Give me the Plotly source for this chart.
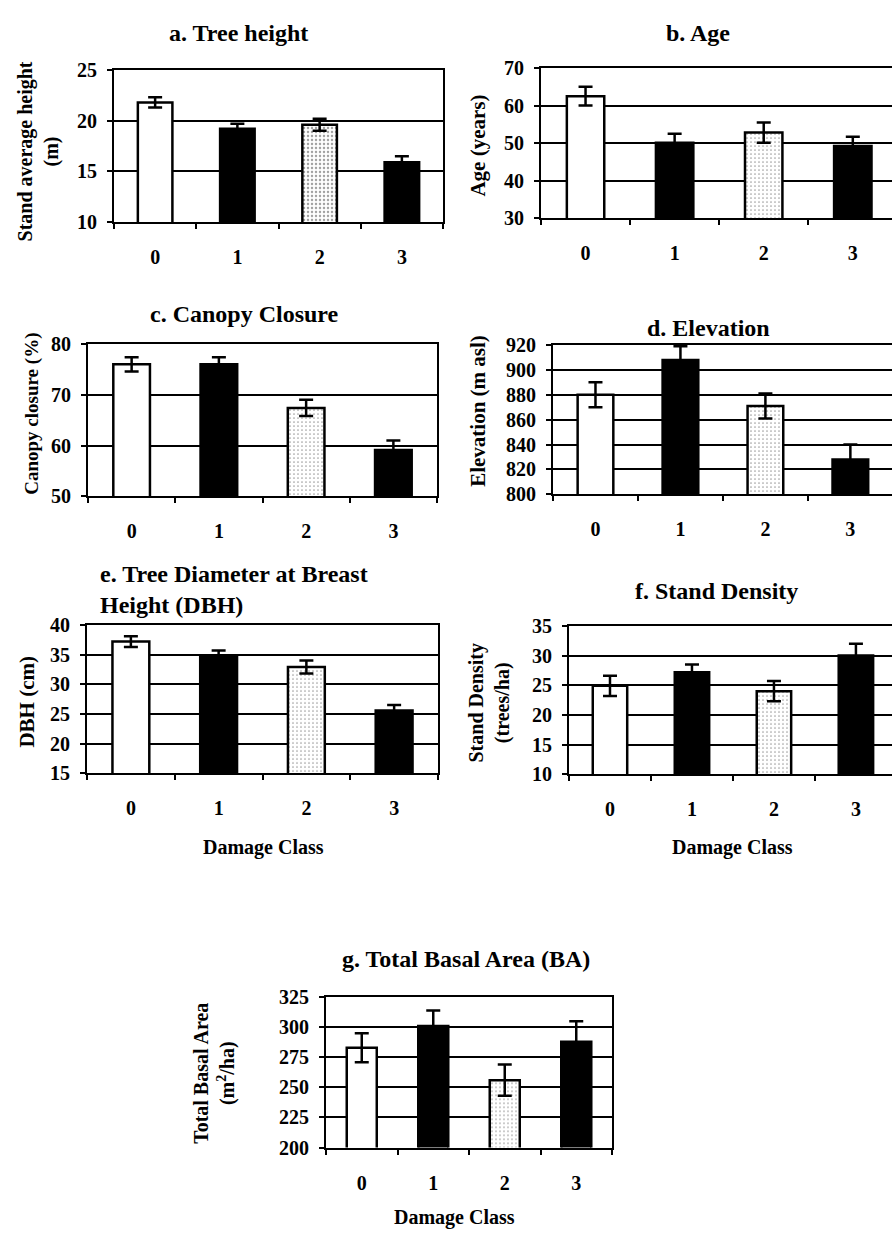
import plotly.graph_objects as go

W, H = 892, 1243

# Damage classes on the x axis
classes = ["0", "1", "2", "3"]

# Panel means and standard errors, one pair per stand attribute
height_mean = [21.8, 19.2, 19.6, 15.9]
height_err = [0.5, 0.5, 0.6, 0.6]

age_mean = [62.5, 50.1, 52.8, 49.2]
age_err = [2.5, 2.4, 2.7, 2.5]

canopy_mean = [76.0, 76.0, 67.4, 59.1]
canopy_err = [1.4, 1.4, 1.6, 1.9]

elev_mean = [880, 908, 871, 828]
elev_err = [10, 11, 10, 12]

dbh_mean = [37.2, 34.9, 32.9, 25.6]
dbh_err = [0.9, 0.8, 1.1, 0.9]

density_mean = [24.9, 27.2, 24.0, 30.0]
density_err = [1.7, 1.3, 1.7, 2.0]

ba_mean = [283, 301, 256, 288]
ba_err = [12, 13, 13, 17]

FONT = "Liberation Serif"

fig = go.Figure()


def px_x(x):
    return x / W


def px_y(y):
    return 1 - y / H


def add_panel(idx, means, errs, xdom, ydom, yrange, dtick, xmax=3.5,
              right_line=True, stipple=0.15):
    xa = "x" if idx == 1 else f"x{idx}"
    ya = "y" if idx == 1 else f"y{idx}"
    fig.add_trace(go.Bar(
        x=classes, y=means,
        xaxis=xa, yaxis=ya,
        width=0.42,
        marker=dict(
            color=["white", "black", "white", "black"],
            line=dict(color="black", width=2.5),
            pattern=dict(shape=["", "", ".", ""], fgcolor="#666666",
                         size=4, solidity=stipple),
        ),
        error_y=dict(type="data", array=errs, visible=True,
                     color="black", thickness=2.5, width=7),
        showlegend=False,
    ))
    key = "" if idx == 1 else str(idx)
    fig.layout[f"xaxis{key}"] = dict(
        domain=[px_x(xdom[0]), px_x(xdom[1])],
        anchor=ya, type="category", range=[-0.5, xmax],
        tickson="boundaries", ticks="outside", ticklen=5, tickwidth=1.5,
        tickcolor="black", showline=True, linecolor="black", linewidth=2,
        mirror=True, showgrid=False,
        tickfont=dict(family=FONT, size=20, color="black", weight="bold"),
        ticklabelstandoff=16,
    )
    fig.layout[f"yaxis{key}"] = dict(
        domain=[px_y(ydom[1]), px_y(ydom[0])],
        anchor=xa, range=yrange, dtick=dtick, tick0=yrange[0],
        ticks="outside", ticklen=5, tickwidth=1.5, tickcolor="black",
        showline=True, linecolor="black", linewidth=2,
        mirror=right_line, showgrid=True, gridcolor="black", gridwidth=1.5,
        zeroline=False,
        tickfont=dict(family=FONT, size=20, color="black", weight="bold"),
        ticklabelstandoff=6,
    )


add_panel(1, height_mean, height_err, (114, 443), (60, 215), [10, 25], 5,
          stipple=0.3)
add_panel(2, age_mean, age_err, (541, 892), (58, 211), [30, 70], 10,
          xmax=3.44, right_line=False)
add_panel(3, canopy_mean, canopy_err, (88, 437), (339, 494), [50, 80], 10)
add_panel(4, elev_mean, elev_err, (553, 892), (340, 492), [800, 920], 20,
          xmax=3.49, right_line=False)
add_panel(5, dbh_mean, dbh_err, (87, 438), (625, 776), [15, 40], 5)
add_panel(6, density_mean, density_err, (569, 892), (626, 777), [10, 35], 5,
          xmax=3.44, right_line=False)
add_panel(7, ba_mean, ba_err, (326, 612), (1004, 1157), [200, 325], 25)


def label(text, x, y, size, angle=0, xanchor="center", align="center"):
    fig.add_annotation(
        text=text, x=px_x(x), y=px_y(y), xref="paper", yref="paper",
        showarrow=False, textangle=angle, xanchor=xanchor, yanchor="middle",
        align=align,
        font=dict(family=FONT, size=size, color="black", weight="bold"),
    )


# Panel titles
label("a. Tree height", 238, 22, 24)
label("b. Age", 698, 22, 24)
label("c. Canopy Closure", 244, 308, 24)
label("d. Elevation", 708, 323, 24)
label("e. Tree Diameter at Breast<br>Height (DBH)", 98, 589, 24,
      xanchor="left", align="left")
label("f. Stand Density", 716, 590, 24)
label("g. Total Basal Area (BA)", 466, 965, 24)

# Y-axis titles
label("Stand average height<br>(m)", 38, 143, 20, angle=-90)
label("Age (years)", 478, 137, 21, angle=-90)
label("Canopy closure (%)", 32, 410, 19, angle=-90)
label("Elevation (m asl)", 478, 407, 21, angle=-90)
label("DBH (cm)", 27, 703, 21, angle=-90)
label("Stand Density<br>(trees/ha)", 490, 705, 20, angle=-90)
label("Total Basal Area<br>(m<sup>2</sup>/ha)", 215, 1082, 20, angle=-90)

# X-axis titles
label("Damage Class", 263, 852, 20)
label("Damage Class", 732, 852, 20)
label("Damage Class", 454, 1228, 20)

fig.update_layout(
    width=W, height=H,
    margin=dict(l=0, r=0, t=0, b=0),
    paper_bgcolor="white", plot_bgcolor="white",
    bargap=0.58,
)

fig.write_html("out.html")
